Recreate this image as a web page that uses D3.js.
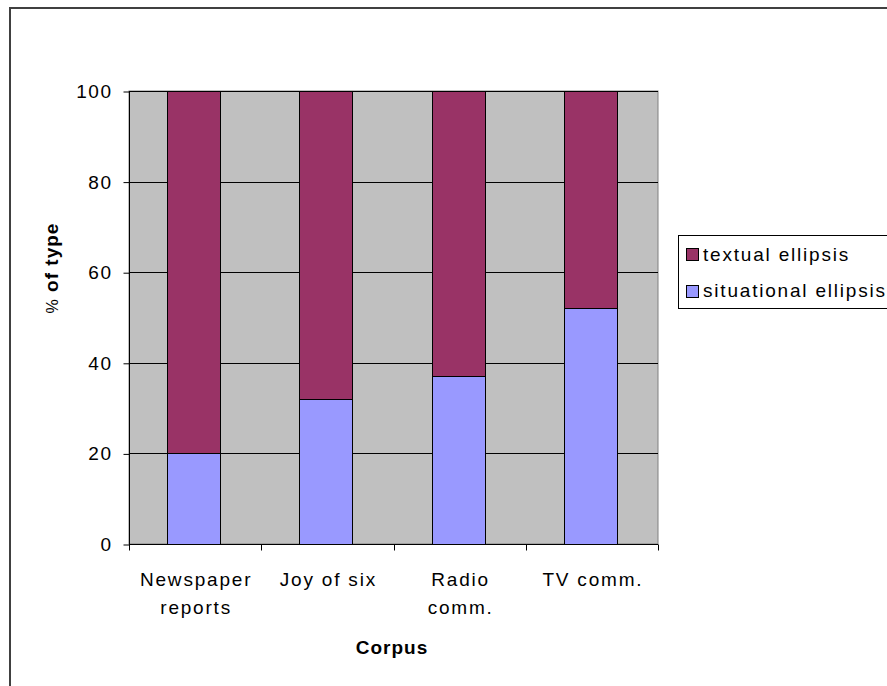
<!DOCTYPE html>
<html><head><meta charset="utf-8">
<script src="https://cdn.jsdelivr.net/npm/d3@7"></script>
<style>
html,body{margin:0;padding:0;background:#fff;}
svg{display:block;}
text{font-family:"Liberation Sans",Arial,sans-serif;}
</style></head>
<body>
<script>
const categories = ["Newspaper\nreports", "Joy of six", "Radio\ncomm.", "TV comm."];
const situational = [20, 32, 37, 52];
const textual = [80, 68, 63, 48];
const seriesNames = ["textual ellipsis", "situational ellipsis"];
const seriesColors = ["#993366", "#9999FF"];
const yTicks = [0, 20, 40, 60, 80, 100];

const W = 887, H = 686;
const svg = d3.select("body").append("svg").attr("width", W).attr("height", H);

// outer frame
svg.append("path").attr("d", `M10,${H} V8 H${W}`).attr("fill","none").attr("stroke","#404040").attr("stroke-width",2);

const L = 129, R = 658, T = 91, B = 544;
const x = d3.scaleBand().domain(categories).range([L, R]).padding(0);
const y = d3.scaleLinear().domain([0, 100]).range([B, T]);

svg.append("rect").attr("x", L).attr("y", T).attr("width", R-L).attr("height", B-T)
  .attr("fill", "#C0C0C0").attr("stroke", "#808080").attr("stroke-width", 1);

// gridlines
svg.append("g").selectAll("line").data(yTicks.filter(d=>d>0)).join("line")
  .attr("x1", L).attr("x2", R).attr("y1", d=>Math.round(y(d))+0.5).attr("y2", d=>Math.round(y(d))+0.5)
  .attr("stroke", "#000").attr("stroke-width", 1);

// stacked bars
const stackData = categories.map((c,i)=>({cat:c, situational:situational[i], textual:textual[i]}));
const stack = d3.stack().keys(["situational","textual"])(stackData);
const colorOf = {situational: seriesColors[1], textual: seriesColors[0]};
const bw = Math.round(x.bandwidth()*0.4);
stack.forEach(layer=>{
  svg.append("g").selectAll("rect").data(layer).join("rect")
    .attr("x", d=>Math.floor(x(d.data.cat)+(x.bandwidth()-bw)/2-1)+0.5)
    .attr("width", bw)
    .attr("y", d=>Math.round(y(d[1]))+0.5)
    .attr("height", d=>Math.round(y(d[0]))-Math.round(y(d[1])))
    .attr("fill", colorOf[layer.key]).attr("stroke","#000").attr("stroke-width",1);
});

// y axis
const yAxis = d3.axisLeft(y).tickValues(yTicks).tickSize(6).tickPadding(8);
const gy = svg.append("g").attr("transform", `translate(${L+0.5},0.5)`).call(yAxis);
gy.select(".domain").attr("stroke","#000").attr("d", `M0,${T}V${B}`);
gy.selectAll(".tick line").attr("stroke","#000");
gy.selectAll(".tick text").attr("font-family","Liberation Sans, Arial, sans-serif")
  .attr("font-size", 19).attr("letter-spacing", "1.5px").attr("fill","#000").attr("x", -17);

// x axis
const gx = svg.append("g").attr("transform", `translate(0,${B+0.5})`);
gx.append("line").attr("x1", L).attr("x2", R).attr("stroke","#000");
const bounds = categories.map(c=>x(c)).concat([R]);
gx.selectAll("line.t").data(bounds).join("line").attr("class","t")
  .attr("x1", d=>Math.round(d)+0.5).attr("x2", d=>Math.round(d)+0.5).attr("y1",0).attr("y2",6).attr("stroke","#000");
gx.selectAll("text.cat").data(categories).join("text").attr("class","cat")
  .attr("text-anchor","middle").attr("font-size",19).attr("letter-spacing","1.8px").attr("fill","#000")
  .each(function(d){
    const t = d3.select(this);
    d.split("\n").forEach((line,i)=>{
      t.append("tspan").attr("x", x(d)+x.bandwidth()/2+1).attr("y", 41 + i*28).text(line);
    });
  });

// axis titles
svg.append("text").attr("x", 392).attr("y", 654).attr("text-anchor","middle")
  .attr("font-size",19).attr("font-weight","bold").attr("letter-spacing","1px").text("Corpus");
const yl = svg.append("text").attr("transform","translate(58,268) rotate(-90)").attr("text-anchor","middle")
  .attr("font-size",19).attr("font-weight","bold").attr("letter-spacing","1px");
yl.append("tspan").attr("font-weight","normal").attr("font-size",16).text("%");
yl.append("tspan").text(" of type");

// legend
const lg = svg.append("g");
lg.append("rect").attr("x", 678.5).attr("y", 235.5).attr("width", 240).attr("height", 73)
  .attr("fill","#fff").attr("stroke","#000");
seriesNames.forEach((n,i)=>{
  lg.append("rect").attr("x", 686.5).attr("y", 248.5 + i*37).attr("width",12).attr("height",12)
    .attr("fill", seriesColors[i]).attr("stroke","#000");
  lg.append("text").attr("x", 703).attr("y", 261 + i*36).attr("font-size",19)
    .attr("letter-spacing","1.8px").text(n);
});
</script>
</body></html>
